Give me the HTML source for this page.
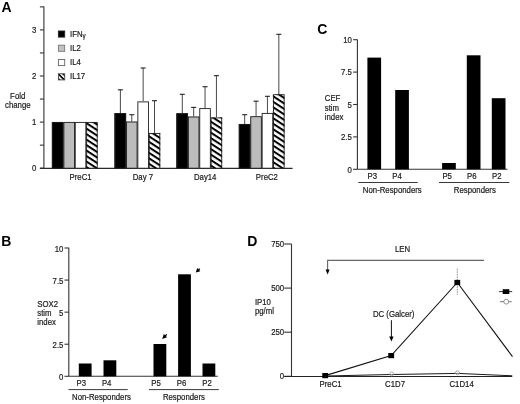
<!DOCTYPE html>
<html><head><meta charset="utf-8"><style>
html,body{margin:0;padding:0;background:#fff;}
svg{display:block;filter:grayscale(1);font-family:"Liberation Sans",sans-serif;}
text{stroke:#1a1a1a;stroke-width:0.18px;}
.nb{stroke:none;}
</style></head><body>
<svg width="520" height="404" viewBox="0 0 520 404">
<defs>
<pattern id="hatch" patternUnits="userSpaceOnUse" width="4.6" height="4.6" patternTransform="rotate(33)">
<rect width="4.6" height="4.6" fill="#fff"/><rect width="4.6" height="2" fill="#000"/>
</pattern>
<pattern id="hatch2" patternUnits="userSpaceOnUse" width="3.4" height="3.4" patternTransform="rotate(45)">
<rect width="3.4" height="3.4" fill="#fff"/><rect width="3.4" height="1.6" fill="#000"/>
</pattern>
</defs>
<rect width="520" height="404" fill="#fff"/>
<text x="1.6" y="12" font-size="14" text-anchor="start" font-weight="bold" fill="#000" class="nb" >A</text>
<line x1="43.9" y1="6.5" x2="43.9" y2="168.7" stroke="#333" stroke-width="1.1" />
<line x1="39.9" y1="168.2" x2="43.9" y2="168.2" stroke="#333" stroke-width="1.1" />
<line x1="39.9" y1="145.14999999999998" x2="43.9" y2="145.14999999999998" stroke="#333" stroke-width="1.1" />
<line x1="39.9" y1="122.1" x2="43.9" y2="122.1" stroke="#333" stroke-width="1.1" />
<line x1="39.9" y1="99.04999999999998" x2="43.9" y2="99.04999999999998" stroke="#333" stroke-width="1.1" />
<line x1="39.9" y1="75.99999999999999" x2="43.9" y2="75.99999999999999" stroke="#333" stroke-width="1.1" />
<line x1="39.9" y1="52.94999999999999" x2="43.9" y2="52.94999999999999" stroke="#333" stroke-width="1.1" />
<line x1="39.9" y1="29.899999999999977" x2="43.9" y2="29.899999999999977" stroke="#333" stroke-width="1.1" />
<line x1="39.9" y1="6.849999999999994" x2="43.9" y2="6.849999999999994" stroke="#333" stroke-width="1.1" />
<text transform="translate(36.3,171.4) scale(1,1.12)" font-size="7.8" text-anchor="end" fill="#1a1a1a" >0</text>
<text transform="translate(36.3,125.3) scale(1,1.12)" font-size="7.8" text-anchor="end" fill="#1a1a1a" >1</text>
<text transform="translate(36.3,79.2) scale(1,1.12)" font-size="7.8" text-anchor="end" fill="#1a1a1a" >2</text>
<text transform="translate(36.3,33.1) scale(1,1.12)" font-size="7.8" text-anchor="end" fill="#1a1a1a" >3</text>
<line x1="39.9" y1="168.39999999999998" x2="292.6" y2="168.39999999999998" stroke="#2a2a2a" stroke-width="1.2" />
<rect x="51.80" y="122" width="11.68" height="46.20" fill="#000"/>
<rect x="63.18" y="122" width="11.68" height="46.20" fill="#bcbcbc"/>
<rect x="74.56" y="122" width="11.68" height="46.20" fill="#fff"/>
<rect x="85.94" y="122" width="11.68" height="46.20" fill="url(#hatch)"/>
<line x1="120.39" y1="89.8" x2="120.39" y2="113.1" stroke="#333" stroke-width="0.9" />
<line x1="117.89" y1="89.8" x2="122.89" y2="89.8" stroke="#222" stroke-width="1.1" />
<rect x="114.40" y="113.1" width="11.68" height="55.10" fill="#000"/>
<line x1="131.77" y1="114.7" x2="131.77" y2="121.6" stroke="#333" stroke-width="0.9" />
<line x1="129.27" y1="114.7" x2="134.27" y2="114.7" stroke="#222" stroke-width="1.1" />
<rect x="125.78" y="121.6" width="11.68" height="46.60" fill="#bcbcbc"/>
<line x1="143.15" y1="68.0" x2="143.15" y2="101.5" stroke="#333" stroke-width="0.9" />
<line x1="140.65" y1="68.0" x2="145.65" y2="68.0" stroke="#222" stroke-width="1.1" />
<rect x="137.16" y="101.5" width="11.68" height="66.70" fill="#fff"/>
<line x1="154.53" y1="100.7" x2="154.53" y2="133.0" stroke="#333" stroke-width="0.9" />
<line x1="152.03" y1="100.7" x2="157.03" y2="100.7" stroke="#222" stroke-width="1.1" />
<rect x="148.54" y="133.0" width="11.68" height="35.20" fill="url(#hatch)"/>
<line x1="182.29" y1="94.3" x2="182.29" y2="113.3" stroke="#333" stroke-width="0.9" />
<line x1="179.79" y1="94.3" x2="184.79" y2="94.3" stroke="#222" stroke-width="1.1" />
<rect x="176.30" y="113.3" width="11.68" height="54.90" fill="#000"/>
<line x1="193.67" y1="107.4" x2="193.67" y2="116.6" stroke="#333" stroke-width="0.9" />
<line x1="191.17" y1="107.4" x2="196.17" y2="107.4" stroke="#222" stroke-width="1.1" />
<rect x="187.68" y="116.6" width="11.68" height="51.60" fill="#bcbcbc"/>
<line x1="205.04999999999998" y1="86.7" x2="205.04999999999998" y2="108.2" stroke="#333" stroke-width="0.9" />
<line x1="202.54999999999998" y1="86.7" x2="207.54999999999998" y2="86.7" stroke="#222" stroke-width="1.1" />
<rect x="199.06" y="108.2" width="11.68" height="60.00" fill="#fff"/>
<line x1="216.43" y1="75.7" x2="216.43" y2="117.5" stroke="#333" stroke-width="0.9" />
<line x1="213.93" y1="75.7" x2="218.93" y2="75.7" stroke="#222" stroke-width="1.1" />
<rect x="210.44" y="117.5" width="11.68" height="50.70" fill="url(#hatch)"/>
<line x1="244.69" y1="114.7" x2="244.69" y2="124.0" stroke="#333" stroke-width="0.9" />
<line x1="242.19" y1="114.7" x2="247.19" y2="114.7" stroke="#222" stroke-width="1.1" />
<rect x="238.70" y="124.0" width="11.68" height="44.20" fill="#000"/>
<line x1="256.07" y1="101.2" x2="256.07" y2="116.3" stroke="#333" stroke-width="0.9" />
<line x1="253.57" y1="101.2" x2="258.57" y2="101.2" stroke="#222" stroke-width="1.1" />
<rect x="250.08" y="116.3" width="11.68" height="51.90" fill="#bcbcbc"/>
<line x1="267.45" y1="96.3" x2="267.45" y2="113.0" stroke="#333" stroke-width="0.9" />
<line x1="264.95" y1="96.3" x2="269.95" y2="96.3" stroke="#222" stroke-width="1.1" />
<rect x="261.46" y="113.0" width="11.68" height="55.20" fill="#fff"/>
<line x1="278.83" y1="34.3" x2="278.83" y2="94.3" stroke="#333" stroke-width="0.9" />
<line x1="276.33" y1="34.3" x2="281.33" y2="34.3" stroke="#222" stroke-width="1.1" />
<rect x="272.84" y="94.3" width="11.68" height="73.90" fill="url(#hatch)"/>
<rect x="52.50" y="122.40" width="10.58" height="45.80" fill="none" stroke="#1e1e1e" stroke-width="0.9"/>
<rect x="63.88" y="122.40" width="10.58" height="45.80" fill="none" stroke="#1e1e1e" stroke-width="0.9"/>
<rect x="75.26" y="122.40" width="10.58" height="45.80" fill="none" stroke="#1e1e1e" stroke-width="0.9"/>
<rect x="86.64" y="122.40" width="10.58" height="45.80" fill="none" stroke="#1e1e1e" stroke-width="0.9"/>
<rect x="115.10" y="113.50" width="10.58" height="54.70" fill="none" stroke="#1e1e1e" stroke-width="0.9"/>
<rect x="126.48" y="122.00" width="10.58" height="46.20" fill="none" stroke="#1e1e1e" stroke-width="0.9"/>
<rect x="137.86" y="101.90" width="10.58" height="66.30" fill="none" stroke="#1e1e1e" stroke-width="0.9"/>
<rect x="149.24" y="133.40" width="10.58" height="34.80" fill="none" stroke="#1e1e1e" stroke-width="0.9"/>
<rect x="177.00" y="113.70" width="10.58" height="54.50" fill="none" stroke="#1e1e1e" stroke-width="0.9"/>
<rect x="188.38" y="117.00" width="10.58" height="51.20" fill="none" stroke="#1e1e1e" stroke-width="0.9"/>
<rect x="199.76" y="108.60" width="10.58" height="59.60" fill="none" stroke="#1e1e1e" stroke-width="0.9"/>
<rect x="211.14" y="117.90" width="10.58" height="50.30" fill="none" stroke="#1e1e1e" stroke-width="0.9"/>
<rect x="239.40" y="124.40" width="10.58" height="43.80" fill="none" stroke="#1e1e1e" stroke-width="0.9"/>
<rect x="250.78" y="116.70" width="10.58" height="51.50" fill="none" stroke="#1e1e1e" stroke-width="0.9"/>
<rect x="262.16" y="113.40" width="10.58" height="54.80" fill="none" stroke="#1e1e1e" stroke-width="0.9"/>
<rect x="273.54" y="94.70" width="10.58" height="73.50" fill="none" stroke="#1e1e1e" stroke-width="0.9"/>
<text transform="translate(80.6,179.7) scale(1,1.12)" font-size="7.8" text-anchor="middle" fill="#1a1a1a" >PreC1</text>
<text transform="translate(142.9,179.7) scale(1,1.12)" font-size="7.8" text-anchor="middle" fill="#1a1a1a" >Day 7</text>
<text transform="translate(205.2,179.7) scale(1,1.12)" font-size="7.8" text-anchor="middle" fill="#1a1a1a" >Day14</text>
<text transform="translate(266.9,179.7) scale(1,1.12)" font-size="7.8" text-anchor="middle" fill="#1a1a1a" >PreC2</text>
<text transform="translate(17.7,98.7) scale(1,1.12)" font-size="7.8" text-anchor="middle" fill="#1a1a1a" >Fold</text>
<text transform="translate(17.8,107.6) scale(1,1.12)" font-size="7.8" text-anchor="middle" fill="#1a1a1a" >change</text>
<rect x="58.4" y="31" width="6.3" height="6.1" fill="#000" stroke="#222" stroke-width="0.9"/>
<text transform="translate(70,36.5) scale(1,1.12)" font-size="7.8" text-anchor="start" fill="#1a1a1a" >IFN<tspan font-size="6.2" dy="0.9">&#947;</tspan></text>
<rect x="58.4" y="45.2" width="6.3" height="6.1" fill="#c2c2c2" stroke="#777" stroke-width="0.9"/>
<text transform="translate(70,50.7) scale(1,1.12)" font-size="7.8" text-anchor="start" fill="#1a1a1a" >IL2</text>
<rect x="58.4" y="59.5" width="6.3" height="6.1" fill="#fff" stroke="#666" stroke-width="0.9"/>
<text transform="translate(70,65.0) scale(1,1.12)" font-size="7.8" text-anchor="start" fill="#1a1a1a" >IL4</text>
<rect x="58.4" y="73.8" width="6.3" height="6.1" fill="url(#hatch2)" stroke="#444" stroke-width="0.9"/>
<text transform="translate(70,79.3) scale(1,1.12)" font-size="7.8" text-anchor="start" fill="#1a1a1a" >IL17</text>
<text x="1.2" y="246" font-size="14" text-anchor="start" font-weight="bold" fill="#000" class="nb" >B</text>
<line x1="68.8" y1="247.8" x2="68.8" y2="376.3" stroke="#333" stroke-width="1.1" />
<line x1="64.5" y1="376.3" x2="68.8" y2="376.3" stroke="#333" stroke-width="1.1" />
<text transform="translate(63.4,380.3) scale(1,1.12)" font-size="7.8" text-anchor="end" fill="#1a1a1a" >0</text>
<line x1="64.5" y1="344.225" x2="68.8" y2="344.225" stroke="#333" stroke-width="1.1" />
<text transform="translate(63.4,348.23) scale(1,1.12)" font-size="7.8" text-anchor="end" fill="#1a1a1a" >2.5</text>
<line x1="64.5" y1="312.15" x2="68.8" y2="312.15" stroke="#333" stroke-width="1.1" />
<text transform="translate(63.4,316.15) scale(1,1.12)" font-size="7.8" text-anchor="end" fill="#1a1a1a" >5</text>
<line x1="64.5" y1="280.075" x2="68.8" y2="280.075" stroke="#333" stroke-width="1.1" />
<text transform="translate(63.4,284.07) scale(1,1.12)" font-size="7.8" text-anchor="end" fill="#1a1a1a" >7.5</text>
<line x1="64.5" y1="248.0" x2="68.8" y2="248.0" stroke="#333" stroke-width="1.1" />
<text transform="translate(63.4,252.0) scale(1,1.12)" font-size="7.8" text-anchor="end" fill="#1a1a1a" >10</text>
<line x1="68.8" y1="376.3" x2="217.8" y2="376.3" stroke="#333" stroke-width="1.1" />
<rect x="78.8" y="363.5" width="12.8" height="12.800000000000011" fill="#000"/>
<rect x="103.5" y="360.3" width="12.8" height="16.0" fill="#000"/>
<rect x="153.5" y="344.0" width="12.8" height="32.30000000000001" fill="#000"/>
<rect x="178.1" y="274.3" width="12.8" height="102.0" fill="#000"/>
<rect x="202.5" y="363.5" width="12.8" height="12.800000000000011" fill="#000"/>
<text transform="translate(76.6,386.1) scale(1,1.12)" font-size="7.8" text-anchor="start" fill="#1a1a1a" >P3</text>
<text transform="translate(101.9,386.1) scale(1,1.12)" font-size="7.8" text-anchor="start" fill="#1a1a1a" >P4</text>
<text transform="translate(151.3,386.1) scale(1,1.12)" font-size="7.8" text-anchor="start" fill="#1a1a1a" >P5</text>
<text transform="translate(176.7,386.1) scale(1,1.12)" font-size="7.8" text-anchor="start" fill="#1a1a1a" >P6</text>
<text transform="translate(202.2,386.1) scale(1,1.12)" font-size="7.8" text-anchor="start" fill="#1a1a1a" >P2</text>
<line x1="68.5" y1="389.6" x2="127.7" y2="389.6" stroke="#222" stroke-width="0.9" />
<line x1="149" y1="389.6" x2="218.8" y2="389.6" stroke="#222" stroke-width="0.9" />
<text transform="translate(101.5,400.4) scale(1,1.12)" font-size="7.8" text-anchor="middle" fill="#1a1a1a" >Non-Responders</text>
<text transform="translate(183.9,400.4) scale(1,1.12)" font-size="7.8" text-anchor="middle" fill="#1a1a1a" >Responders</text>
<text transform="translate(37.3,306.6) scale(1,1.12)" font-size="7.8" text-anchor="start" fill="#1a1a1a" >SOX2</text>
<text transform="translate(37.3,315.9) scale(1,1.12)" font-size="7.8" text-anchor="start" fill="#1a1a1a" >stim</text>
<text transform="translate(37.3,325.2) scale(1,1.12)" font-size="7.8" text-anchor="start" fill="#1a1a1a" >index</text>
<line x1="165.10" y1="336.00" x2="166.80" y2="334.30" stroke="#000" stroke-width="1.2"/>
<polygon points="162.2,338.9 167.08,337.27 163.83,334.02" fill="#000"/>
<line x1="198.42" y1="269.98" x2="199.76" y2="268.64" stroke="#000" stroke-width="1.2"/>
<polygon points="195.8,272.6 200.33,271.19 197.21,268.07" fill="#000"/>
<text x="317.2" y="34.2" font-size="14" text-anchor="start" font-weight="bold" fill="#000" class="nb" >C</text>
<line x1="357.4" y1="39.5" x2="357.4" y2="169.3" stroke="#333" stroke-width="1.1" />
<line x1="353.09999999999997" y1="169.3" x2="357.4" y2="169.3" stroke="#333" stroke-width="1.1" />
<text transform="translate(351.8,172.5) scale(1,1.12)" font-size="7.8" text-anchor="end" fill="#1a1a1a" >0</text>
<line x1="353.09999999999997" y1="136.9" x2="357.4" y2="136.9" stroke="#333" stroke-width="1.1" />
<text transform="translate(351.8,140.1) scale(1,1.12)" font-size="7.8" text-anchor="end" fill="#1a1a1a" >2.5</text>
<line x1="353.09999999999997" y1="104.5" x2="357.4" y2="104.5" stroke="#333" stroke-width="1.1" />
<text transform="translate(351.8,107.7) scale(1,1.12)" font-size="7.8" text-anchor="end" fill="#1a1a1a" >5</text>
<line x1="353.09999999999997" y1="72.1" x2="357.4" y2="72.1" stroke="#333" stroke-width="1.1" />
<text transform="translate(351.8,75.3) scale(1,1.12)" font-size="7.8" text-anchor="end" fill="#1a1a1a" >7.5</text>
<line x1="353.09999999999997" y1="39.69999999999999" x2="357.4" y2="39.69999999999999" stroke="#333" stroke-width="1.1" />
<text transform="translate(351.8,42.9) scale(1,1.12)" font-size="7.8" text-anchor="end" fill="#1a1a1a" >10</text>
<line x1="357.4" y1="169.3" x2="507.5" y2="169.3" stroke="#333" stroke-width="1.1" />
<rect x="367.4" y="57.6" width="13.7" height="111.70000000000002" fill="#000"/>
<rect x="395.2" y="90.0" width="13.7" height="79.30000000000001" fill="#000"/>
<rect x="442.1" y="163.0" width="13.7" height="6.300000000000011" fill="#000"/>
<rect x="466.8" y="55.3" width="13.7" height="114.00000000000001" fill="#000"/>
<rect x="491.8" y="98.2" width="13.7" height="71.10000000000001" fill="#000"/>
<text transform="translate(367.5,178.9) scale(1,1.12)" font-size="7.8" text-anchor="start" fill="#1a1a1a" >P3</text>
<text transform="translate(392.3,178.9) scale(1,1.12)" font-size="7.8" text-anchor="start" fill="#1a1a1a" >P4</text>
<text transform="translate(442.4,178.9) scale(1,1.12)" font-size="7.8" text-anchor="start" fill="#1a1a1a" >P5</text>
<text transform="translate(467.1,178.9) scale(1,1.12)" font-size="7.8" text-anchor="start" fill="#1a1a1a" >P6</text>
<text transform="translate(492.1,178.9) scale(1,1.12)" font-size="7.8" text-anchor="start" fill="#1a1a1a" >P2</text>
<line x1="358.4" y1="182.5" x2="417.7" y2="182.5" stroke="#222" stroke-width="0.9" />
<line x1="439" y1="182.5" x2="509.3" y2="182.5" stroke="#222" stroke-width="0.9" />
<text transform="translate(392.3,192.8) scale(1,1.12)" font-size="7.8" text-anchor="middle" fill="#1a1a1a" >Non-Responders</text>
<text transform="translate(474.8,192.8) scale(1,1.12)" font-size="7.8" text-anchor="middle" fill="#1a1a1a" >Responders</text>
<text transform="translate(324.8,100.9) scale(1,1.12)" font-size="7.8" text-anchor="start" fill="#1a1a1a" >CEF</text>
<text transform="translate(324.8,110.9) scale(1,1.12)" font-size="7.8" text-anchor="start" fill="#1a1a1a" >stim</text>
<text transform="translate(324.8,120.1) scale(1,1.12)" font-size="7.8" text-anchor="start" fill="#1a1a1a" >index</text>
<text x="247.2" y="246" font-size="14" text-anchor="start" font-weight="bold" fill="#000" class="nb" >D</text>
<line x1="291.5" y1="244.0" x2="291.5" y2="376.3" stroke="#333" stroke-width="1.1" />
<line x1="284.2" y1="376.3" x2="291.5" y2="376.3" stroke="#333" stroke-width="1.1" />
<text transform="translate(284.2,379.0) scale(1,1.12)" font-size="7.8" text-anchor="end" fill="#1a1a1a" >0</text>
<line x1="284.2" y1="332.2" x2="291.5" y2="332.2" stroke="#333" stroke-width="1.1" />
<text transform="translate(284.2,334.9) scale(1,1.12)" font-size="7.8" text-anchor="end" fill="#1a1a1a" >250</text>
<line x1="284.2" y1="288.1" x2="291.5" y2="288.1" stroke="#333" stroke-width="1.1" />
<text transform="translate(284.2,290.8) scale(1,1.12)" font-size="7.8" text-anchor="end" fill="#1a1a1a" >500</text>
<line x1="284.2" y1="244.0" x2="291.5" y2="244.0" stroke="#333" stroke-width="1.1" />
<text transform="translate(284.2,246.7) scale(1,1.12)" font-size="7.8" text-anchor="end" fill="#1a1a1a" >750</text>
<line x1="284.2" y1="376.5" x2="512.2" y2="376.5" stroke="#222" stroke-width="1.1" />
<polyline points="325.2,376.0 391.6,374.5 457.5,373.4 512.3,375.8" fill="none" stroke="#1a1a1a" stroke-width="1.0"/>
<circle cx="391.6" cy="373.9" r="2.0" fill="#fff" fill-opacity="0.3" stroke="#9a9a9a" stroke-width="0.8"/>
<circle cx="457.5" cy="372.79999999999995" r="2.0" fill="#fff" fill-opacity="0.3" stroke="#9a9a9a" stroke-width="0.8"/>
<polyline points="325.2,375.6 391.2,355.6 457.3,282.5 512.5,356.6" fill="none" stroke="#111" stroke-width="1.1"/>
<line x1="457.3" y1="268.8" x2="457.3" y2="294.8" stroke="#888" stroke-width="1" stroke-dasharray="1.5,1"/>
<rect x="322.3" y="373.0" width="5.8" height="5.2" fill="#000"/>
<rect x="388.3" y="353.0" width="5.8" height="5.2" fill="#000"/>
<rect x="454.40000000000003" y="279.9" width="5.8" height="5.2" fill="#000"/>
<text transform="translate(330.6,386.9) scale(1,1.12)" font-size="7.8" text-anchor="middle" fill="#1a1a1a" >PreC1</text>
<text transform="translate(395.0,386.9) scale(1,1.12)" font-size="7.8" text-anchor="middle" fill="#1a1a1a" >C1D7</text>
<text transform="translate(461.6,386.9) scale(1,1.12)" font-size="7.8" text-anchor="middle" fill="#1a1a1a" >C1D14</text>
<text transform="translate(254.9,304.9) scale(1,1.12)" font-size="7.8" text-anchor="start" fill="#1a1a1a" >IP10</text>
<text transform="translate(254.9,313.7) scale(1,1.12)" font-size="7.8" text-anchor="start" fill="#1a1a1a" >pg/ml</text>
<polyline points="484,260.4 327.6,260.4 327.6,270.5" fill="none" stroke="#666" stroke-width="1.1"/>
<polygon points="325.6,269.6 329.6,269.6 327.6,274.6" fill="#000"/>
<text transform="translate(402.6,251.8) scale(1,1.12)" font-size="7.8" text-anchor="middle" fill="#1a1a1a" >LEN</text>
<line x1="391.4" y1="320.2" x2="391.4" y2="337.5" stroke="#111" stroke-width="1" />
<polygon points="389.2,336.5 393.6,336.5 391.4,341.5" fill="#000"/>
<text transform="translate(393.7,316.8) scale(1,1.12)" font-size="7.8" text-anchor="middle" fill="#1a1a1a" >DC (Galcer)</text>
<line x1="499" y1="291.6" x2="512.2" y2="291.6" stroke="#333" stroke-width="1" />
<rect x="502.7" y="289.2" width="6.6" height="4.8" fill="#000"/>
<line x1="500" y1="301.7" x2="511.7" y2="301.7" stroke="#777" stroke-width="1" />
<circle cx="506.2" cy="301.7" r="2.4" fill="#fff" stroke="#777" stroke-width="0.8"/>
</svg>
</body></html>
